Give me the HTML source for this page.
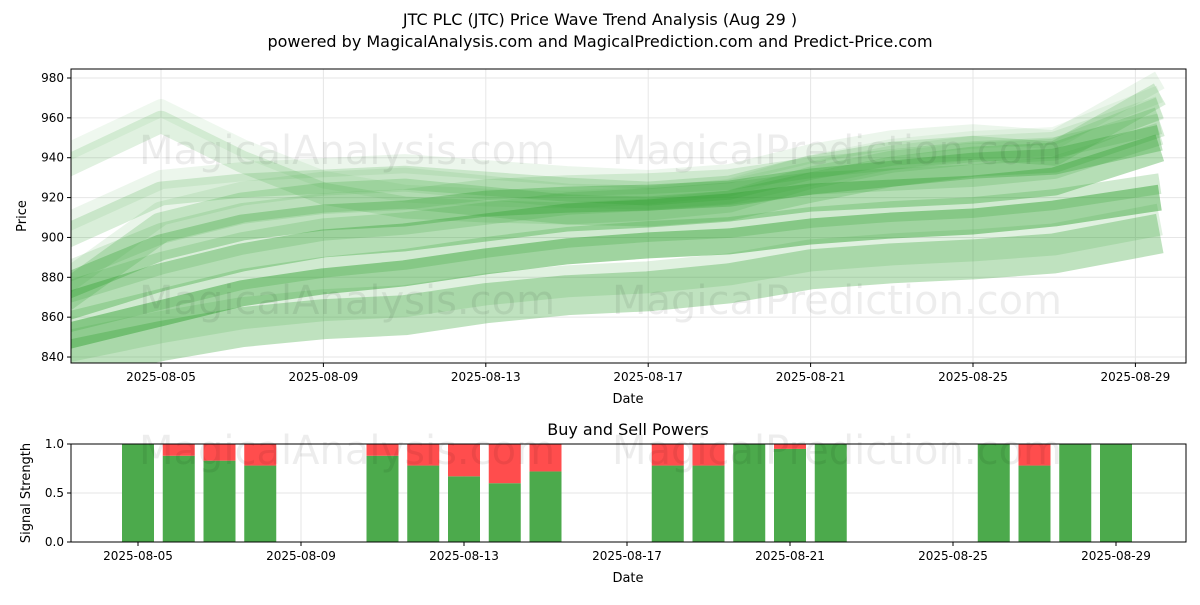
<!DOCTYPE html>
<html><head><meta charset="utf-8"><style>
body{margin:0;background:#fff;font-family:"Liberation Sans","DejaVu Sans",sans-serif}
svg text{font-family:"DejaVu Sans","Liberation Sans",sans-serif;fill:#000}
</style></head><body>
<svg id="c" width="1200" height="600" xmlns="http://www.w3.org/2000/svg">
<text x="600" y="25" text-anchor="middle" font-size="16">JTC PLC (JTC) Price Wave Trend Analysis (Aug 29 )</text>
<text x="600" y="47" text-anchor="middle" font-size="16">powered by MagicalAnalysis.com and MagicalPrediction.com and Predict-Price.com</text>
<g id="topg"></g><g id="botg"></g>
</svg>
<script>
const waveDays=[2.6,5,7,9,11,13,15,17,19,21,23,25,27,29.6];
const wave1=[850,862,872,878,882,888,893,896,898,903,906,908,912,920];
const wave2=[865,880,890,897,900,905,910,912,915,920,922,924,928,945];
const wave3=[875,895,905,910,912,917,919,920,922,928,932,936,938,950];
const wave4=[838,848,855,859,861,867,871,873,877,884,887,889,892,902];
const wave5=[900,922,926,928,930,927,924,922,925,935,942,945,942,972];
const wave6=[935,958,938,922,915,913,912,914,918,930,938,942,944,965];
const wave7=[870,905,915,920,922,918,914,913,916,925,933,938,940,958];
const waves=[wave4,wave1,wave2,wave3,wave7,wave5,wave6];
const waveWidths=[40,26,28,26,30,24,22];
const waveOpac=[0.3,0.45,0.35,0.3,0.2,0.18,0.15];
const barDays=[5,6,7,8,11,12,13,14,15,18,19,20,21,22,26,27,28,29];
const buyPower=[1,0.88,0.83,0.78,0.88,0.78,0.67,0.6,0.72,0.78,0.78,1,0.95,1,1,0.78,1,1];
const xTicks=["2025-08-05","2025-08-09","2025-08-13","2025-08-17","2025-08-21","2025-08-25","2025-08-29"];
const xTickDays=[5,9,13,17,21,25,29];
const yTicks=[840,860,880,900,920,940,960,980];
const y2Ticks=[0,0.5,1];

const NS="http://www.w3.org/2000/svg";
const L=71,R=1186;
const X=d=>161+(d-5)*40.6;
const X2=d=>138+(d-5)*40.75;
const Y=v=>78+(980-v)*1.993;
const Y2=v=>542-v*98;
function mk(p,t,a){const e=document.createElementNS(NS,t);for(const k in a)e.setAttribute(k,a[k]);p.appendChild(e);return e;}
const topG=document.getElementById('topg'),botG=document.getElementById('botg');
mk(topG,'rect',{x:L,y:69,width:R-L,height:294,fill:'#fff'});
mk(botG,'rect',{x:L,y:444,width:R-L,height:98,fill:'#fff'});
xTickDays.forEach(d=>{
  const l=mk(topG,'line',{x1:X(d),x2:X(d),y1:69,y2:363,stroke:'#e6e6e6'});
  const l2=mk(botG,'line',{x1:X2(d),x2:X2(d),y1:444,y2:542,stroke:'#e6e6e6'});
});
yTicks.forEach(v=>{const l=mk(topG,'line',{x1:L,x2:R,y1:Y(v),y2:Y(v),stroke:'#e6e6e6'});});
y2Ticks.forEach(v=>{const l=mk(botG,'line',{x1:L,x2:R,y1:Y2(v),y2:Y2(v),stroke:'#e6e6e6'});});
const cp=mk(topG,'clipPath',{id:'cp'});mk(cp,'rect',{x:L,y:69,width:R-L,height:294});
const wg=mk(topG,'g',{'clip-path':'url(#cp)'});
waves.forEach((w,i)=>{
  const pts=w.map((v,j)=>X(waveDays[j]).toFixed(1)+','+Y(v).toFixed(1)).join(' ');
  const p=mk(wg,'polyline',{points:pts,fill:'none',stroke:'#2ca02c','stroke-width':waveWidths[i],'stroke-opacity':waveOpac[i],'stroke-linejoin':'round'});
  
  
  const p2=mk(wg,'polyline',{points:w.map((v,j)=>X(waveDays[j]).toFixed(1)+','+Y(v+7).toFixed(1)).join(' '),fill:'none',stroke:'#2ca02c','stroke-width':waveWidths[i]*0.8,'stroke-opacity':waveOpac[i]*0.5,'stroke-linejoin':'round'});
  
  
});
barDays.forEach((d,i)=>{
  const b=buyPower[i],x=X2(d)-16;
  const g=mk(botG,'rect',{x:x,y:Y2(b),width:32,height:Y2(0)-Y2(b),fill:'#4caa4c'});
  
  
  if(b<1){const r=mk(botG,'rect',{x:x,y:Y2(1),width:32,height:Y2(b)-Y2(1),fill:'#ff4d4d'});
  
  }
});
[[347,150,topG],[837,150,topG],[347,300,topG],[837,300,topG],[347,450,botG],[837,450,botG]].forEach(([x,y,g],i)=>{
  const t=mk(g,'text',{x:x,y:y+14,'text-anchor':'middle','font-size':40,style:'fill:#000;fill-opacity:0.07'});
  t.textContent=(i%2==0)?'MagicalAnalysis.com':'MagicalPrediction.com';
  
  
});
mk(topG,'rect',{x:L,y:69,width:R-L,height:294,fill:'none',stroke:'#000','stroke-width':1});
mk(botG,'rect',{x:L,y:444,width:R-L,height:98,fill:'none',stroke:'#000','stroke-width':1});
xTickDays.forEach((d,i)=>{
  [[363,topG,X],[542,botG,X2]].forEach(([y,g,F])=>{
    mk(g,'line',{x1:F(d),x2:F(d),y1:y,y2:y+4,stroke:'#000'});
    const t=mk(g,'text',{x:F(d),y:y+18,'text-anchor':'middle','font-size':12});
    t.textContent=xTicks[i];
    
    
  });
});
yTicks.forEach(v=>{
  mk(topG,'line',{x1:L-4,x2:L,y1:Y(v),y2:Y(v),stroke:'#000'});
  const t=mk(topG,'text',{x:L-7,y:Y(v)+4,'text-anchor':'end','font-size':12});
  t.textContent=v;
  
  
});
y2Ticks.forEach(v=>{
  mk(botG,'line',{x1:L-4,x2:L,y1:Y2(v),y2:Y2(v),stroke:'#000'});
  const t=mk(botG,'text',{x:L-7,y:Y2(v)+4,'text-anchor':'end','font-size':12});
  t.textContent=v.toFixed(1);
  
  
});
function lab(g,x,y,s,txt,name,rot){const t=mk(g,'text',{x:x,y:y,'text-anchor':'middle','font-size':s});if(rot)t.setAttribute('transform',`rotate(-90 ${x} ${y})`);t.textContent=txt;}
lab(topG,628,403,13,'Date','x-axis-title');
lab(topG,26,216,13,'Price','y-axis-title',true);
lab(botG,628,582,13,'Date','x2-axis-title');
lab(botG,30,493,13,'Signal Strength','y2-axis-title',true);
lab(botG,628,435,16,'Buy and Sell Powers','subplot-title');
</script>
</body></html>
